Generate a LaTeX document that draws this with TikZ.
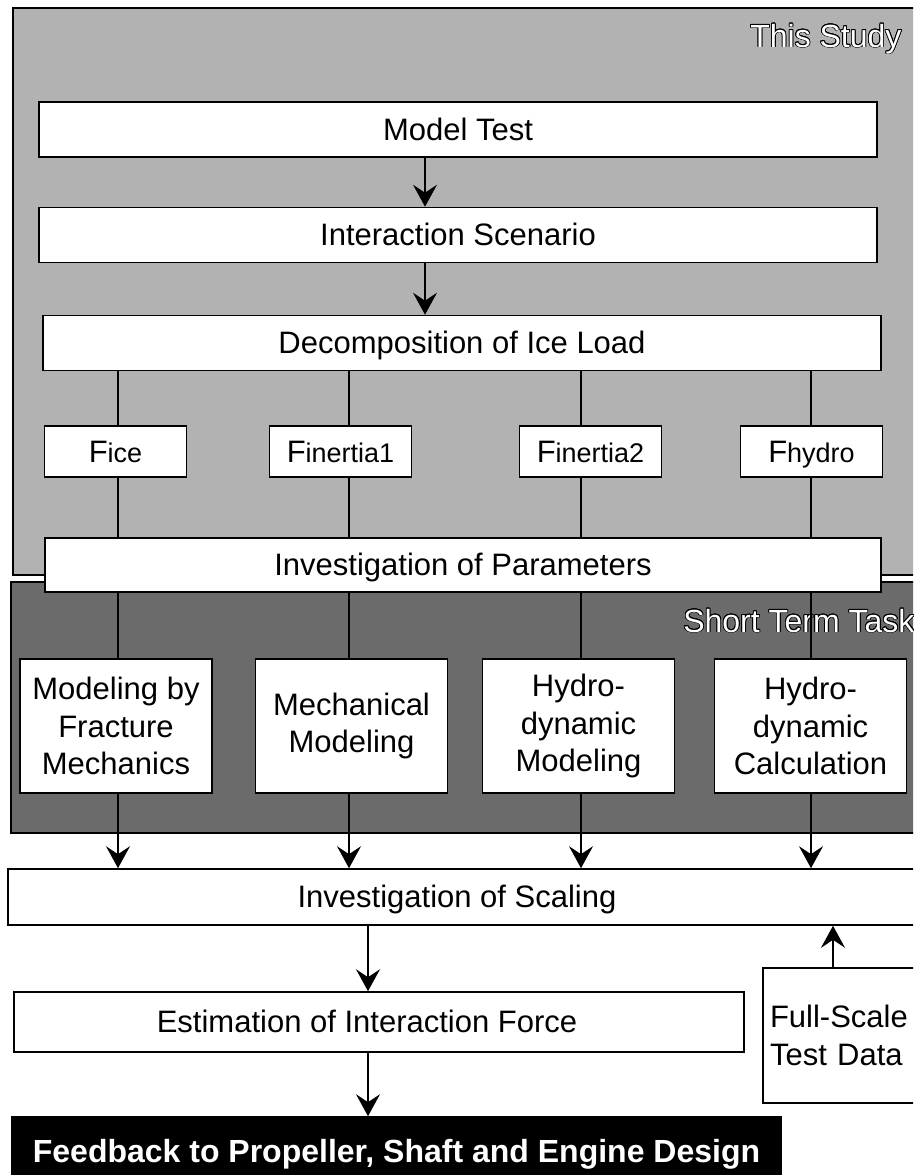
\documentclass[tikz,border=0pt]{standalone}
\usepackage{fontspec}
\setmainfont{Liberation Sans}
\usepackage[copies]{contour}
\contourlength{0.8pt}
\usetikzlibrary{arrows.meta, positioning}

% force label: capital F with smaller suffix
\newcommand{\forcelbl}[1]{F{\fontsize{27}{30}\selectfont #1}}

\begin{document}
\begin{tikzpicture}[
        x=1pt, y=-1pt,
        box/.style={draw, fill=white, line width=1.6pt, inner sep=0pt, align=center,
            font=\fontsize{31}{37.5}\selectfont},
        oneline/.style={box, text height=25pt, text depth=4pt},
        widebox/.style={oneline, minimum width=838pt, minimum height=55pt},
        fbox/.style={oneline, minimum width=142pt, minimum height=51pt},
        modbox/.style={box, minimum width=192pt, minimum height=134pt},
        link/.style={line width=1.4pt},
        arr/.style={link, -{Stealth[length=22pt, width=24pt, inset=8pt]}},
        tasklbl/.style={anchor=base east, text=white, font=\fontsize{32}{38}\selectfont}
    ]
    \useasboundingbox (0,0) rectangle (913,1175);
    \clip (0,0) rectangle (913,1175);

    % shaded regions
    \draw[line width=1.6pt, fill=black!30] (13,8) rectangle (930,575);
    \draw[line width=1.6pt, fill=black!58] (11,582) rectangle (930,833);
    \node[tasklbl] (study) at (905,47) {\contour{black}{This Study}};
    \node[tasklbl] (short) at (918,632) {\contour{black}{Short Term Task}};

    % column positions
    \foreach \i/\x in {1/118, 2/349, 3/581, 4/811}
        \coordinate (c\i) at (\x,0);
    \coordinate (topcol) at (425,0);
    \coordinate (midcol) at (368,0);
    \coordinate (datacol) at (833,0);

    % this study
    \node[widebox] (model) at (458,129.5) {Model Test};
    \node[widebox] (scenario) at (458,235) {Interaction Scenario};
    \node[widebox] (decomp) at (462,343) {Decomposition of Ice Load};

    \node[fbox] (fice) at (115.5,451.5) {\forcelbl{ice}};
    \node[fbox] (fin1) at (340.5,451.5) {\forcelbl{inertia1}};
    \node[fbox] (fin2) at (590.5,451.5) {\forcelbl{inertia2}};
    \node[fbox] (fhydro) at (811.5,451.5) {\forcelbl{hydro}};

    \node[widebox, minimum width=836pt, minimum height=54pt] (param) at (463,565) {Investigation of Parameters};

    % short term task
    \node[modbox] (m1) at (116,726) {Modeling by\\Fracture\\Mechanics};
    \node[modbox] (m2) at (351.5,726) {Mechanical\\Modeling};
    \node[modbox] (m3) at (578.5,726) {Hydro-\\dynamic\\Modeling};
    \node[modbox] (m4) at (810.5,726) {Hydro-\\dynamic\\Calculation};

    % lower part
    \node[oneline, minimum width=908pt, minimum height=56pt] (scaling) at (462,897) {\hspace*{-10pt}Investigation of Scaling};
    \node[oneline, minimum width=730pt, minimum height=60pt] (estim) at (379,1022) {\hspace*{-24pt}Estimation of Interaction Force};
    \node[box, minimum height=135pt, text width=150pt, inner xsep=7pt, align=left] (fulldata) at (845,1035.5) {Full-Scale\\Test Data};
    \node[oneline, fill=black, text=white, minimum width=769pt, minimum height=63pt,
        text height=27pt, text depth=0pt,
        font=\bfseries\fontsize{32}{38}\selectfont] (feedback) at (396.5,1148.5) {Feedback to Propeller, Shaft and Engine Design};

    % connectors
    \draw[arr] (model.south -| topcol) -- (scenario.north -| topcol);
    \draw[arr] (scenario.south -| topcol) -- (decomp.north -| topcol);
    \foreach \i/\f in {1/fice, 2/fin1, 3/fin2, 4/fhydro} {
        \draw[link] (decomp.south -| c\i) -- (\f.north -| c\i);
        \draw[link] (\f.south -| c\i) -- (param.north -| c\i);
        \draw[link] (param.south -| c\i) -- (m\i.north -| c\i);
        \draw[arr] (m\i.south -| c\i) -- (scaling.north -| c\i);
    }
    \draw[arr] (scaling.south -| midcol) -- (estim.north -| midcol);
    \draw[arr] (estim.south -| midcol) -- (feedback.north -| midcol);
    \draw[arr] (fulldata.north -| datacol) -- (scaling.south -| datacol);

\end{tikzpicture}
\end{document}
